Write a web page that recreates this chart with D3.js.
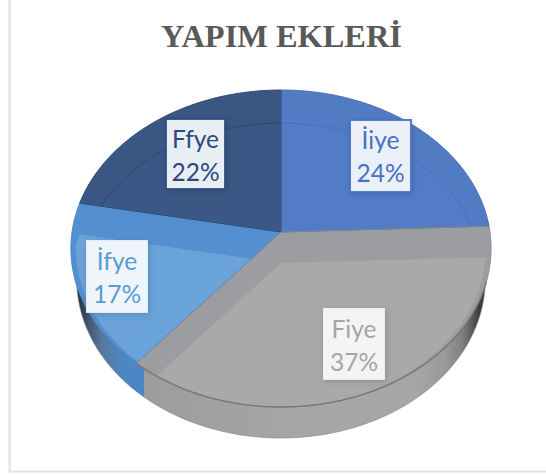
<!DOCTYPE html>
<html><head><meta charset="utf-8">
<script src="https://cdn.jsdelivr.net/npm/d3@7/dist/d3.min.js"></script>
<style>html,body{margin:0;padding:0;background:#fff;overflow:hidden}svg{display:block}</style>
</head><body><svg id="c" width="546" height="474"></svg>
<script>
const chartTitle = "YAPIM EKLERİ";
const categories = ["İiye", "Fiye", "İfye", "Ffye"];
const values = [24.4, 36.6, 17, 22];
const percentLabels = ["24%", "37%", "17%", "22%"];
const faceColors = ["#517cc4", "#9b9da0", "#5490cf", "#3a5683"];
const innerColors = ["#527dc6", "#a9a9a9", "#6aa2da", "#3b5785"];
const arcColors = ["#466fb8", null, null, "#2d4870"];
const textColors = ["#4472c4", "#a5a5a5", "#5b9bd5", "#2a4a7f"];
const boxFills = ["#eaeff8", "#f4f4f4", "#eff5fb", "#e9edf4"];
const boxStrokes = ["#4472c4", "#f4f4f4", "#eff5fb", "#2f4f80"];
const labelBoxes = [[350,120,61,72],[324,309,60,70],[87,241,60,71],[166,119,59,70]];

const svg = d3.select("#c");
const defs = svg.append("defs");
const cx = 281, cy = 232, bx = 209, ay = 156.8, k = 0.104, depth = 31, bevel = 31;

// perspective projection of the pie disc
const project = (a, r = 1) => {
  const u = Math.sin(a) * r, v = Math.cos(a) * r, w = 1 + k * v;
  return [cx + bx * u / w, cy - ay * v / w];
};
const line = d3.line();
const wedge = (s, e) => {
  const n = Math.max(2, Math.ceil((e - s) * 40));
  return line([[cx, cy], ...d3.range(n + 1).map(i => project(s + (e - s) * i / n))]) + "Z";
};
const rim = (s, e) => {
  const n = Math.max(2, Math.ceil((e - s) * 40));
  return line(d3.range(n + 1).map(i => project(s + (e - s) * i / n)));
};
const arcs = d3.pie().sort(null)(values);
const disc = wedge(0, 2 * Math.PI);

// side wall gradient
const xScale = d3.scaleLinear().domain([70, 492]).range([0, 100]);
const sideStops = [[70,"#1f2c3c"],[82,"#44566a"],[96,"#56799c"],[118,"#4c86c4"],[139,"#4a86c6"],[139,"#9c9c9c"],[300,"#a6a6a6"],[420,"#a6a6a6"],[450,"#9a9a9a"],[468,"#808080"],[478,"#5c5c5c"],[486,"#3c3c3c"],[492,"#444444"]];
const g = defs.append("linearGradient").attr("id","side").attr("x1","0%").attr("x2","100%");
sideStops.forEach(s => g.append("stop").attr("offset", xScale(s[0]) + "%").attr("stop-color", s[1]));

const f = defs.append("filter").attr("id","sh").attr("x","-30%").attr("y","-30%").attr("width","160%").attr("height","160%");
f.append("feDropShadow").attr("dx",1.5).attr("dy",2).attr("stdDeviation",3).attr("flood-color","#000").attr("flood-opacity",0.14);

const ic = defs.append("clipPath").attr("id","innerFace");
ic.append("ellipse").attr("cx",cx).attr("cy",248.5).attr("rx",205).attr("ry",158.5);
arcs.forEach((d,i) => defs.append("clipPath").attr("id","w"+i).append("path").attr("d", wedge(d.startAngle,d.endAngle)));

// frame
svg.append("rect").attr("x",8.5).attr("y",0).attr("width",2.5).attr("height",472).attr("fill","#e4e4e4");
svg.append("rect").attr("x",8.5).attr("y",470.5).attr("width",538).attr("height",2.2).attr("fill","#e4e4e4");

// title
svg.append("text").attr("x",281.5).attr("y",46.8).attr("text-anchor","middle")
  .attr("font-family","'Liberation Serif',serif").attr("font-weight",700).attr("font-size",32.4)
  .attr("fill","#595959").text(chartTitle);

// side wall
svg.append("path").attr("d", disc).attr("transform",`translate(${cx},${cy + depth}) scale(0.972,1) translate(${-cx},${-cy})`)
  .attr("fill","url(#side)").attr("stroke","#808080").attr("stroke-width",0.6);

// faces, grey last
const order = [2,3,0,1];
order.forEach(i => {
  const d = arcs[i];
  const gg = svg.append("g");
  gg.append("path").attr("d", wedge(d.startAngle,d.endAngle)).attr("fill",faceColors[i]);
  gg.append("g").attr("clip-path",`url(#w${i})`).append("g").attr("clip-path","url(#innerFace)")
    .append("path").attr("d", wedge(d.startAngle,d.endAngle)).attr("transform",`translate(0,${bevel})`).attr("fill",innerColors[i]);
  if (arcColors[i]) {
    gg.append("g").attr("clip-path",`url(#w${i})`).append("ellipse")
      .attr("cx",cx).attr("cy",265).attr("rx",198).attr("ry",142)
      .attr("fill","none").attr("stroke",arcColors[i]).attr("stroke-width",1);
  }
});
const edgeCols = ["#3f66a8","#8a8b8d","#3f83c6","#2c4468"];
order.forEach(i => {
  svg.append("path").attr("d", wedge(arcs[i].startAngle,arcs[i].endAngle))
    .attr("fill","none").attr("stroke",edgeCols[i]).attr("stroke-width",1).attr("stroke-opacity",0.85);
});
svg.append("path").attr("d", rim(arcs[1].startAngle + 0.35, arcs[1].endAngle))
  .attr("fill","none").attr("stroke","#767676").attr("stroke-width",1.3);

// labels
const lab = svg.append("g").selectAll("g").data(categories).join("g");
lab.append("rect")
  .attr("x",(d,i)=>labelBoxes[i][0]).attr("y",(d,i)=>labelBoxes[i][1])
  .attr("width",(d,i)=>labelBoxes[i][2]).attr("height",(d,i)=>labelBoxes[i][3])
  .attr("fill",(d,i)=>boxFills[i]).attr("stroke",(d,i)=>boxStrokes[i]).attr("stroke-width",1.8)
  .attr("filter","url(#sh)");
lab.append("text").attr("text-anchor","middle").attr("font-family","Lato,sans-serif").attr("font-size",24.5)
  .attr("x",(d,i)=>labelBoxes[i][0]+labelBoxes[i][2]/2).attr("y",(d,i)=>labelBoxes[i][1]+29)
  .attr("fill",(d,i)=>textColors[i]).text(d=>d);
lab.append("text").attr("text-anchor","middle").attr("font-family","Lato,sans-serif").attr("font-size",24.5)
  .attr("x",(d,i)=>labelBoxes[i][0]+labelBoxes[i][2]/2).attr("y",(d,i)=>labelBoxes[i][1]+61.5)
  .attr("fill",(d,i)=>textColors[i]).text((d,i)=>percentLabels[i]);
</script></body></html>
